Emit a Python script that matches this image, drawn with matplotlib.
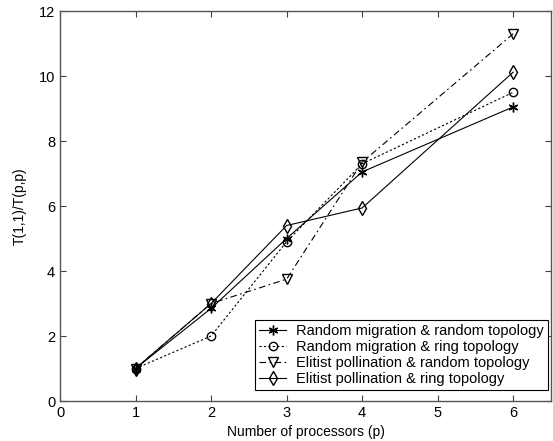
import numpy as np
import matplotlib.pyplot as plt

plt.rcParams['font.family'] = ['Liberation Sans', 'DejaVu Sans']

procs = [1, 2, 3, 4, 6]
rand_mig_rand_topo = [1.0, 2.85, 5.0, 7.05, 9.05]
rand_mig_ring_topo = [1.0, 2.0, 4.9, 7.3, 9.5]
elit_pol_rand_topo = [1.0, 3.0, 3.75, 7.35, 11.3]
elit_pol_ring_topo = [1.0, 3.0, 5.4, 5.94, 10.12]

labels = ['Random migration & random topology',
          'Random migration & ring topology',
          'Elitist pollination & random topology',
          'Elitist pollination & ring topology']

fig = plt.figure(figsize=(5.53, 4.41), dpi=100)
ax = fig.add_axes([0.1085, 0.0907, 0.8879, 0.8843])

lw = 0.8
ax.plot(procs, rand_mig_rand_topo, color='black', ls='-', lw=lw,
        marker=(6, 2, 0), ms=7, mec='black', label=labels[0])
ax.plot(procs, rand_mig_ring_topo, color='black', ls=(0, (2, 2)), lw=lw,
        marker='o', ms=6, mfc='none', mec='black', label=labels[1])
ax.plot(procs, elit_pol_rand_topo, color='black', ls=(0, (6, 3, 1.5, 3)), lw=lw,
        marker='v', ms=7, mfc='none', mec='black', label=labels[2])
ax.plot(procs, elit_pol_ring_topo, color='black', ls='-', lw=lw,
        marker='d', ms=7, mfc='none', mec='black', label=labels[3])

ax.set_xlim(0, 6.5)
ax.set_ylim(0, 12)
ax.set_xticks(range(0, 7))
ax.set_yticks(range(0, 13, 2))
ax.tick_params(direction='in', top=True, right=True, length=4, width=0.8,
               labelsize=10.5, colors='#404040', labelcolor='black')
for s in ax.spines.values():
    s.set_color('#555555')
    s.set_linewidth(1.0)

ax.set_xlabel('Number of processors (p)', fontsize=10, labelpad=4)
ax.set_ylabel('T(1,1)/T(p,p)', fontsize=10, labelpad=9)

leg = ax.legend(loc='lower right', bbox_to_anchor=(0.994, 0.028),
                fontsize=10.5, fancybox=False, framealpha=1,
                edgecolor='black', handlelength=1.8, borderaxespad=0,
                labelspacing=0.12, handletextpad=0.7, borderpad=0.3)
leg.get_frame().set_linewidth(0.8)

fig.savefig('out.png', dpi=100)
